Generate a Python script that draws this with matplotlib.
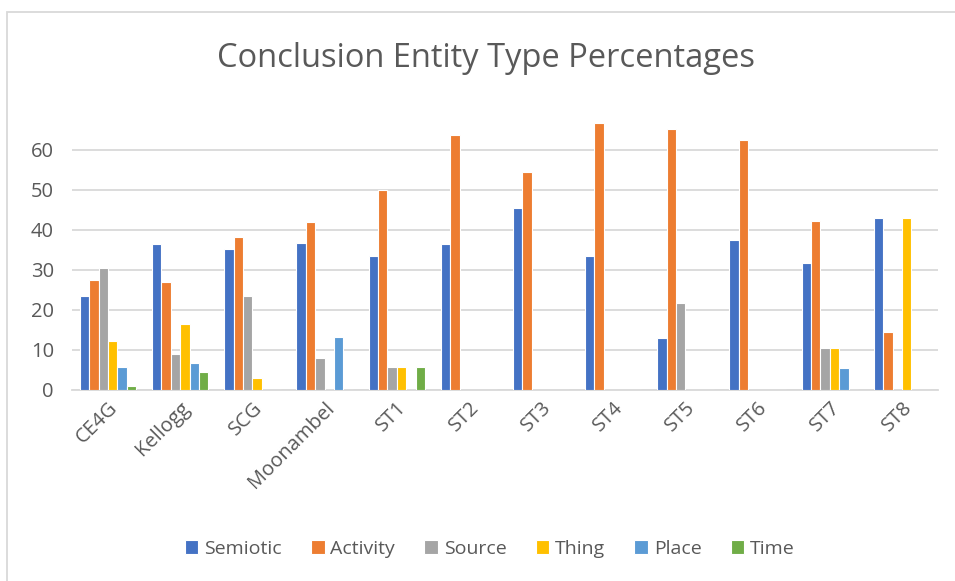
import matplotlib.pyplot as plt
import numpy as np
from matplotlib.patches import Rectangle

# percentages of each conclusion entity type per dataset
sites = ["CE4G", "Kellogg", "SCG", "Moonambel", "ST1", "ST2",
         "ST3", "ST4", "ST5", "ST6", "ST7", "ST8"]
semiotic = [23.3, 36.4, 35.1, 36.6, 33.3, 36.4, 45.5, 33.3, 13.0, 37.5, 31.6, 42.9]
activity = [27.3, 26.8, 38.1, 41.9, 50.0, 63.6, 54.5, 66.7, 65.2, 62.5, 42.1, 14.3]
source = [30.5, 8.9, 23.4, 7.9, 5.6, 0, 0, 0, 21.7, 0, 10.5, 0]
thing = [12.1, 16.3, 2.9, 0, 5.6, 0, 0, 0, 0, 0, 10.5, 42.9]
place = [5.6, 6.6, 0, 13.1, 0, 0, 0, 0, 0, 0, 5.3, 0]
time = [0.8, 4.4, 0, 0, 5.6, 0, 0, 0, 0, 0, 0, 0]

series = [("Semiotic", semiotic, "#4472C4"),
          ("Activity", activity, "#ED7D31"),
          ("Source", source, "#A5A5A5"),
          ("Thing", thing, "#FFC000"),
          ("Place", place, "#5B9BD5"),
          ("Time", time, "#70AD47")]

plt.rcParams['font.family'] = ['Open Sans', 'DejaVu Sans']
txt = "#595959"

fig = plt.figure(figsize=(9.55, 5.81), dpi=100)
ax = fig.add_axes([72/955, 1 - 389.5/581, 866/955, 280/581])

x = np.arange(len(sites))
w = 0.13
for i, (name, vals, col) in enumerate(series):
    ax.bar(x + (i - 2.5)*w, vals, w, color=col, edgecolor="white",
           linewidth=0.8, label=name, zorder=3)

ax.set_xlim(-0.5, len(sites) - 0.5)
ax.set_ylim(0, 70)
ax.set_yticks(range(0, 61, 10))
ax.yaxis.grid(True, color="#D9D9D9", linewidth=1.3, zorder=0)
ax.tick_params(axis="both", length=0, labelsize=14.5, colors=txt)
ax.tick_params(axis="y", pad=13)
ax.tick_params(axis="x", pad=6)
for s in ["top", "right", "left"]:
    ax.spines[s].set_visible(False)
ax.spines["bottom"].set_color("#D9D9D9")
ax.spines["bottom"].set_linewidth(1.3)
ax.set_xticks(x)
ax.set_xticklabels(sites, rotation=45, ha="right", rotation_mode="anchor")

fig.text(0.509, 0.9, "Conclusion Entity Type Percentages", ha="center",
         va="center", fontsize=23.5, color=txt)

leg = fig.legend(loc="center", bbox_to_anchor=(0.513, 0.055), ncol=6,
                 frameon=False, fontsize=14, handlelength=0.7,
                 handleheight=0.7, handletextpad=0.3, columnspacing=1.5)
for t in leg.get_texts():
    t.set_color(txt)

# chart area border
fig.patches.append(Rectangle((7/955, -0.01), 1.0, 1 - 12/581 + 0.01,
                             transform=fig.transFigure, fill=False,
                             edgecolor="#D9D9D9", linewidth=1.3))

fig.savefig("out.png", dpi=100)
